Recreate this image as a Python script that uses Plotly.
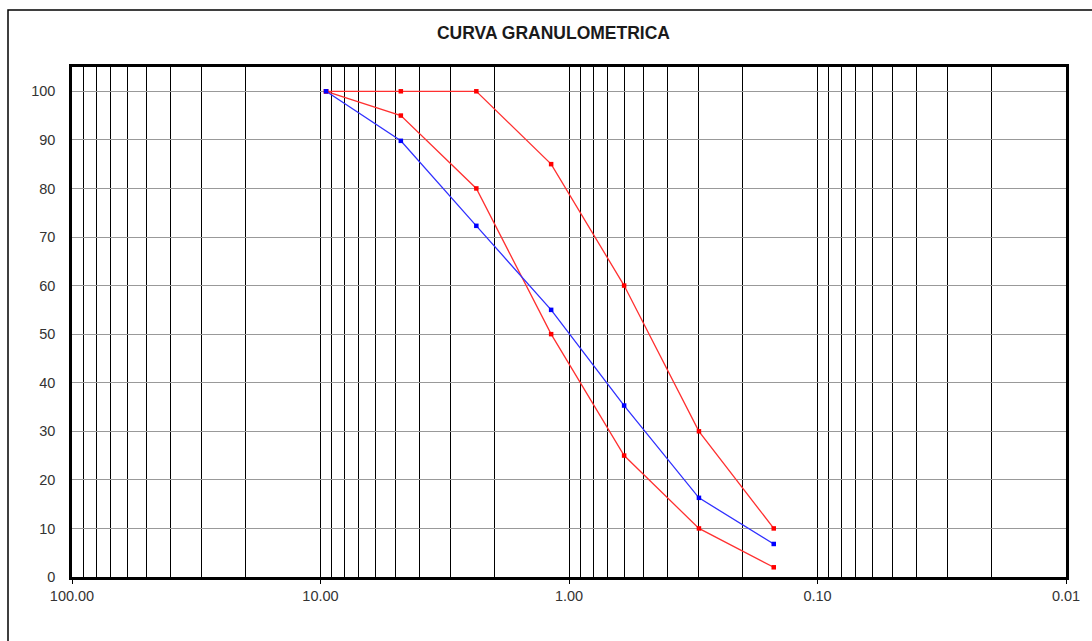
import plotly.graph_objects as go

# Sieve openings (mm)
sieve_mm = [9.5, 4.75, 2.36, 1.18, 0.6, 0.3, 0.15]
# Percent passing
sample_pass = [100, 89.8, 72.3, 55.0, 35.3, 16.3, 6.8]
upper_limit = [100, 100, 100, 85, 60, 30, 10]
lower_limit = [100, 95, 80, 50, 25, 10, 2]

x_major = [100, 10, 1, 0.1, 0.01]
x_major_text = ["100.00", "10.00", "1.00", "0.10", "0.01"]
x_minor = [m * d for d in [10, 1, 0.1, 0.01] for m in range(2, 10)]
y_ticks = list(range(0, 101, 10))

W, H = 1092, 641
L, R, T, B = 72, 26, 67, 64
pw, ph = W - L - R, H - T - B

fig = go.Figure()
line_w = 1.3
fig.add_trace(go.Scatter(x=sieve_mm, y=upper_limit, mode="lines+markers",
                         line=dict(color="#ff3030", width=line_w),
                         marker=dict(symbol="square", size=4.5, color="#ff0000"),
                         showlegend=False))
fig.add_trace(go.Scatter(x=sieve_mm, y=lower_limit, mode="lines+markers",
                         line=dict(color="#ff3030", width=line_w),
                         marker=dict(symbol="square", size=4.5, color="#ff0000"),
                         showlegend=False))
fig.add_trace(go.Scatter(x=sieve_mm, y=sample_pass, mode="lines+markers",
                         line=dict(color="#3030ff", width=line_w),
                         marker=dict(symbol="square", size=4.5, color="#0000ff"),
                         showlegend=False))

fig.update_layout(
    width=W, height=H,
    margin=dict(l=L, r=R, t=T, b=B),
    paper_bgcolor="white", plot_bgcolor="white",
    font=dict(family="Liberation Sans, Arial", size=14, color="#333333"),
    title=dict(text="<b>CURVA GRANULOMETRICA</b>", x=553.5 / W, xanchor="center",
               y=1 - 33 / H, yanchor="middle",
               font=dict(family="Liberation Sans, Arial", size=17.5, color="#1a1a1a")),
)
fig.update_xaxes(
    type="log", range=[2, -2],
    tickvals=x_major, ticktext=x_major_text,
    ticks="outside", ticklen=4, tickcolor="black", tickwidth=1,
    showgrid=True, gridcolor="black", gridwidth=1.3,
    minor=dict(tickvals=x_minor, showgrid=True, gridcolor="black", gridwidth=1.3, ticks=""),
    showline=True, linecolor="black", linewidth=2.5, mirror=True,
    zeroline=False, tickfont=dict(size=14.5, color="#333333"),
)
fig.update_yaxes(
    range=[0, 105], tickvals=y_ticks,
    ticks="", showgrid=True, gridcolor="#999999", gridwidth=1,
    showline=True, linecolor="black", linewidth=2.5, mirror=True,
    zeroline=False, tickfont=dict(size=14.5, color="#333333"),
    ticklabelstandoff=11,
)
# outer frame
fig.add_shape(type="rect", xref="paper", yref="paper",
              x0=(8 - L) / pw, x1=(1100 - L) / pw,
              y0=(H - B - 660) / ph, y1=(H - B - 10) / ph,
              line=dict(color="black", width=1.5), layer="below")

fig.write_html("out.html")
